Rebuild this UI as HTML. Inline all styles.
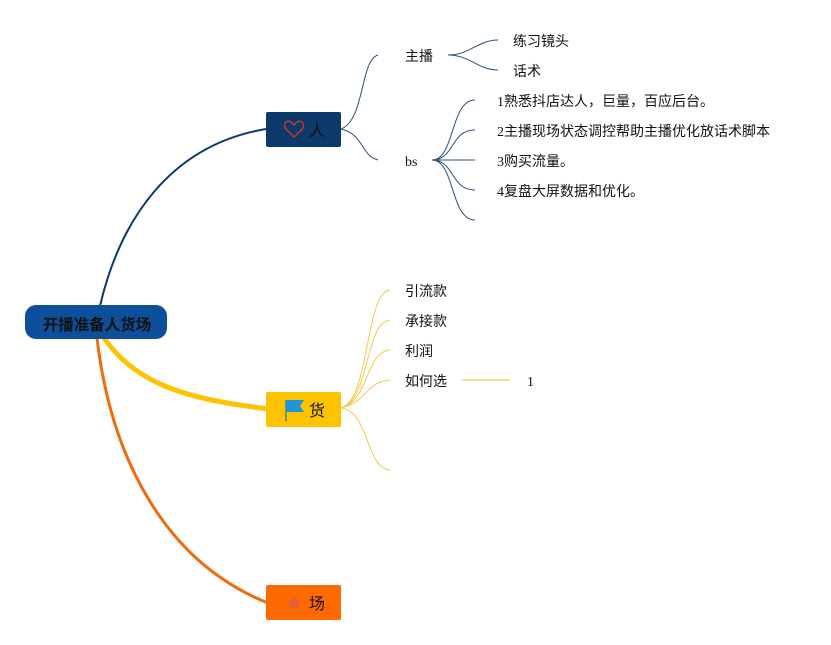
<!DOCTYPE html>
<html><head><meta charset="utf-8"><style>
html,body{margin:0;padding:0;background:#fff;}
svg{display:block;}
text{font-family:"Liberation Sans","Noto Sans CJK SC",sans-serif;font-size:14px;fill:#111;}
.s{font-family:"Liberation Serif","Noto Sans CJK SC",serif;}
</style></head><body>
<svg width="831" height="645" viewBox="0 0 831 645" xmlns="http://www.w3.org/2000/svg">
<path d="M100 306 C120 220 170 145 266 129" fill="none" stroke="#0d3a6b" stroke-width="2"/>
<path d="M104 338 C140 390 200 400 268 409" fill="none" stroke="#fdc300" stroke-width="5"/>
<path d="M97 338 C110 450 160 560 268 603" fill="none" stroke="#f06a0e" stroke-width="3"/>
<g fill="none" stroke="#2d4f7c" stroke-width="1">
<path d="M341 129 C365 120 360 60 378 55"/>
<path d="M341 129 C365 135 360 155 378 160"/>
<path d="M448 55 C470 55 478 40 498 40"/>
<path d="M448 55 C470 55 478 70 498 70"/>
<path d="M432 160 C455 160 450 100 475 100"/>
<path d="M432 160 C455 160 450 130 475 130"/>
<path d="M432 160 L475 160"/>
<path d="M432 160 C455 160 450 190 475 190"/>
<path d="M432 160 C455 160 450 220 475 220"/>
</g>
<g fill="none" stroke="#f6c84a" stroke-width="1">
<path d="M341 408 C370 400 365 292 390 290"/>
<path d="M341 408 C370 400 365 322 390 320"/>
<path d="M341 408 C370 400 365 352 390 350"/>
<path d="M341 408 C370 400 365 382 390 380"/>
<path d="M341 408 C370 412 365 468 390 470"/>
</g>
<line x1="462" y1="380" x2="510" y2="380" stroke="#f8d070" stroke-width="1.5"/>
<rect x="25" y="305" width="142" height="34" rx="11" fill="#0d4f9a"/>
<text x="97" y="330" text-anchor="middle" style="font-weight:bold;font-size:15.5px">开播准备人货场</text>
<rect x="266" y="112" width="75" height="35" rx="2" fill="#0d3a6b"/>
<path d="M294 137 L286 129 C282 124 287 119 291 122 L294 125 L297 122 C301 119 306 124 302 129 Z" fill="none" stroke="#c0392b" stroke-width="1.5"/>
<text x="309" y="136" style="font-size:16px">人</text>
<rect x="266" y="392" width="75" height="35" rx="2" fill="#fdc300"/>
<path d="M286 400 L286 421" stroke="#1a7abf" stroke-width="1.2"/>
<path d="M286 400 L304 400 L300 406 L304 412 L286 412 Z" fill="#1e96d8"/>
<text x="309" y="416" style="font-size:16px">货</text>
<rect x="266" y="585" width="75" height="35" rx="2" fill="#ff6a00"/>
<path d="M294 595 L296.4 600.5 L302 601 L297.8 604.6 L299.2 610 L294 607 L288.8 610 L290.2 604.6 L286 601 L291.6 600.5 Z" fill="#e2603a"/>
<text x="309" y="609" style="font-size:16px">场</text>
<text x="405" y="61">主播</text>
<text x="513" y="46">练习镜头</text>
<text x="513" y="76">话术</text>
<text x="405" y="166" class="s">bs</text>
<text x="497" y="106" class="s">1熟悉抖店达人，巨量，百应后台。</text>
<text x="497" y="136" class="s">2主播现场状态调控帮助主播优化放话术脚本</text>
<text x="497" y="166" class="s">3购买流量。</text>
<text x="497" y="196" class="s">4复盘大屏数据和优化。</text>
<text x="405" y="296">引流款</text>
<text x="405" y="326">承接款</text>
<text x="405" y="356">利润</text>
<text x="405" y="386">如何选</text>
<text x="527" y="386" class="s">1</text>
</svg>
</body></html>
